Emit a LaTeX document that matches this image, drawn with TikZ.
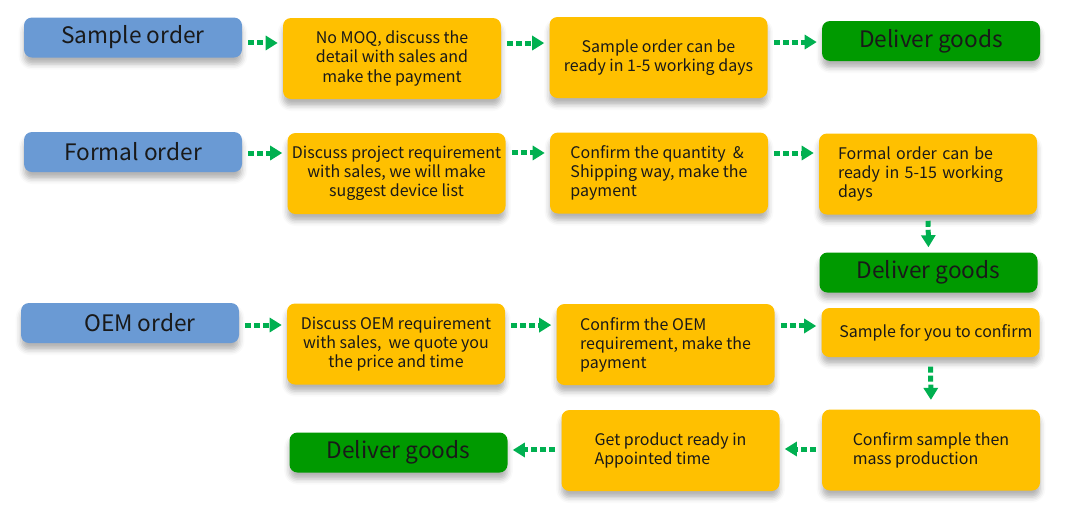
\documentclass[tikz,border=0pt]{standalone}
\usepackage{fontspec}
\setmainfont{Noto Sans CJK SC}
\usepackage{xcolor}
\usetikzlibrary{positioning,arrows.meta,shadows.blur}

\definecolor{ordblue}{HTML}{6A9AD4}
\definecolor{stepyellow}{HTML}{FFC000}
\definecolor{delgreen}{HTML}{009A00}
\definecolor{flowgreen}{HTML}{00B050}

\tikzset{
  box/.style={rounded corners=6pt, minimum width=163.5pt, inner sep=0pt,
    blur shadow={shadow xshift=0pt, shadow yshift=-5pt, shadow blur radius=4pt, shadow opacity=30}},
  orderbox/.style={box, fill=ordblue, minimum height=30pt, text=black!90,
    font=\fontsize{17}{20}\selectfont},
  stepbox/.style={box, fill=stepyellow, minimum height=60.75pt, text=black!90,
    font=\fontsize{12}{14.3}\selectfont, align=center},
  leftbox/.style={stepbox, align=left},
  delbox/.style={box, fill=delgreen, minimum height=30pt, text=black!90,
    font=\fontsize{17}{20}\selectfont},
  flow/.style={draw=flowgreen, line width=3.75pt, dash pattern=on 4.5pt off 2.25pt,
    -{Triangle[length=9pt,width=10.5pt]}, shorten <=4.5pt, shorten >=3.75pt}
}

\begin{document}
\begin{tikzpicture}[x=0.75pt, y=-0.75pt]
    \useasboundingbox (0,0) rectangle (1077,504);

    % sample order
    \node[orderbox] (s0) at (133,37.5) {Sample order};
    \node[stepbox] (s1) at (392,58.5) {No MOQ, discuss the\\detail with sales and\\make the payment};
    \node[stepbox] (s2) at (658.5,57.5) {Sample order can be\\ready in 1-5 working days};
    \node[delbox] (s3) at (931,41) {Deliver goods};

    \draw[flow] ([yshift=-4.1pt]s0.east) -- ([yshift=-4.1pt]s0.east -| s1.west);
    \draw[flow] ([yshift=11.6pt]s1.east) -- ([yshift=11.6pt]s1.east -| s2.west);
    \draw[flow] ([yshift=11.6pt]s2.east) -- ([yshift=11.6pt]s2.east -| s3.west);

    % formal order
    \node[orderbox] (f0) at (133,152) {Formal order};
    \node[stepbox] (f1) at (396.5,173.5) {Discuss project requirement\\with sales, we will make\\suggest device list};
    \node[leftbox] (f2) at (659,173) {Confirm the quantity~ \&\\Shipping way, make the\\payment};
    \node[leftbox, text width=135pt] (f3) at (928,174) {Formal order can be\\ready in 5-15 working\\days};
    \node[delbox] (f4) at (928.5,272.5) {Deliver goods};

    \draw[flow] ([yshift=-0.75pt]f0.east) -- ([yshift=-0.75pt]f0.east -| f1.west);
    \draw[flow] ([yshift=15.4pt]f1.east) -- ([yshift=15.4pt]f1.east -| f2.west);
    \draw[flow] ([yshift=15pt]f2.east) -- ([yshift=15pt]f2.east -| f3.west);
    \draw[flow] (f3.south) -- (f4.north);

    % OEM order
    \node[orderbox] (o0) at (130,323) {\hspace{15pt}OEM order};
    \node[stepbox] (o1) at (396,344) {Discuss OEM requirement\\with sales,~ we quote you\\the price and time};
    \node[leftbox] (o2) at (665.5,344.5) {Confirm the OEM\\requirement, make the\\payment};
    \node[stepbox, minimum height=36.75pt] (o3) at (930.5,332.5) {\hspace{8pt}Sample for you to confirm};
    \node[leftbox] (o4) at (931,450) {Confirm sample then\\mass production};
    \node[leftbox] (o5) at (670.5,450.5) {Get product ready in\\Appointed time};
    \node[delbox] (o6) at (398.5,452.5) {Deliver goods};

    \draw[flow] ([yshift=-1.5pt]o0.east) -- ([yshift=-1.5pt]o0.east -| o1.west);
    \draw[flow] ([yshift=14.2pt]o1.east) -- ([yshift=14.2pt]o1.east -| o2.west);
    \draw[flow] ([yshift=13.9pt]o2.east) -- ([yshift=13.9pt]o2.east -| o3.west);
    \draw[flow, shorten <=7pt, shorten >=7pt] (o3.south) -- (o4.north);
    \draw[flow] ([yshift=0.75pt]o4.west) -- ([yshift=0.75pt]o4.west -| o5.east);
    \draw[flow] ([yshift=0.4pt]o5.west) -- ([yshift=0.4pt]o5.west -| o6.east);
\end{tikzpicture}
\end{document}
